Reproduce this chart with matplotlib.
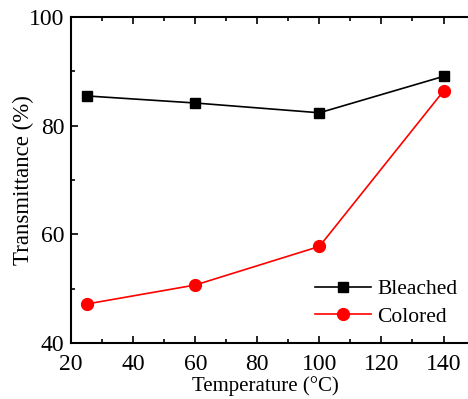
import numpy as np
import matplotlib.pyplot as plt
from matplotlib.ticker import MultipleLocator

plt.rcParams['font.family'] = ['Liberation Serif', 'DejaVu Serif']

# Daten
temperature = [25, 60, 100, 140]
bleached = [85.5, 84.2, 82.4, 89.1]
colored = [47.2, 50.7, 57.8, 86.4]

fig = plt.figure(figsize=(4.68, 3.99), dpi=100)
ax = fig.add_axes([0.152, 0.140, 0.862, 0.817])

ax.plot(temperature, bleached, color='black', marker='s', markersize=7.5, linewidth=1.2, label='Bleached')
ax.plot(temperature, colored, color='red', marker='o', markersize=8.5, linewidth=1.2, label='Colored')

ax.set_xlim(20, 150)
ax.set_ylim(40, 100)
ax.xaxis.set_major_locator(MultipleLocator(20))
ax.xaxis.set_minor_locator(MultipleLocator(10))
ax.yaxis.set_major_locator(MultipleLocator(20))
ax.yaxis.set_minor_locator(MultipleLocator(10))
ax.tick_params(which='both', direction='in', top=True, right=True, width=1.2, labelsize=17)
ax.tick_params(which='major', length=5)
ax.tick_params(which='minor', length=3)
ax.tick_params(axis='x', pad=8)
ax.tick_params(axis='y', pad=5)
for s in ax.spines.values():
    s.set_linewidth(1.5)

ax.set_xlabel('Temperature (°C)', fontsize=15, labelpad=0)
ax.xaxis.set_label_coords(0.482, -0.1)
ax.set_ylabel('Transmittance (%)', fontsize=16.5, labelpad=-4)

ax.legend(loc='lower right', bbox_to_anchor=(1.005, -0.01), frameon=False, fontsize=15.5,
          handlelength=2.6, handletextpad=0.3, labelspacing=0.35)

plt.savefig('out.png', dpi=100)
